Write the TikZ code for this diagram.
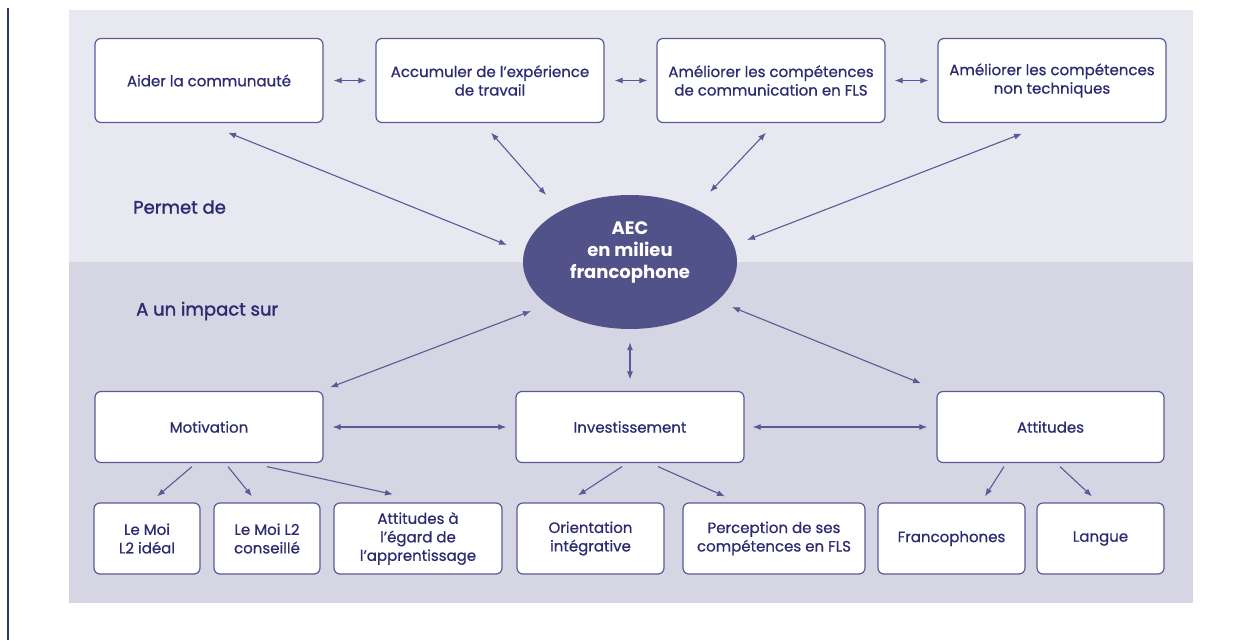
\documentclass[tikz,border=0pt]{standalone}
\usepackage{fontspec}
\setmainfont{Poppins}
\newfontfamily\medfont{Poppins}[FakeBold=0.7]
\newfontfamily\semifont{Poppins}[FakeBold=1.6]
\usetikzlibrary{arrows.meta,shapes.geometric}
\definecolor{bandtop}{HTML}{E8E8F1}
\definecolor{bandbot}{HTML}{D6D5E3}
\definecolor{boxc}{HTML}{5A5A98}
\definecolor{txtc}{HTML}{2C2B72}
\definecolor{ellc}{HTML}{52528A}
\definecolor{linec}{HTML}{2C3A72}
\tikzset{
  box/.style={draw=boxc, fill=white, line width=1.2pt, rounded corners=6pt, align=center,
    inner sep=0pt, text=txtc, font=\medfont\fontsize{15}{18.5}\selectfont},
  dbl/.style={draw=boxc, line width=1.1pt, {Latex[length=8pt,width=6pt]}-{Latex[length=8pt,width=6pt]}},
  sgl/.style={draw=boxc, line width=1.1pt, -{Latex[length=8pt,width=6pt]}},
  lbl/.style={anchor=west, text=txtc, font=\semifont\fontsize{18}{20}\selectfont, inner sep=0pt}
}
\begin{document}
\begin{tikzpicture}[x=1pt,y=-1pt]
\useasboundingbox (0,0) rectangle (1252,640);
\fill[white] (0,0) rectangle (1252,640);
\draw[linec, line width=2pt] (8,8) -- (8,640);
\fill[bandtop] (69,10) rectangle (1193,262);
\fill[bandbot] (69,262) rectangle (1193,603);
% top boxes
\node[box, minimum width=228pt, minimum height=84pt] (aider) at (209,80.5) {Aider la communauté};
\node[box, minimum width=228pt, minimum height=84pt] (accum) at (490,80.5) {Accumuler de l’expérience\\de travail};
\node[box, minimum width=228pt, minimum height=84pt] (amfls) at (771,80.5) {Améliorer les compétences\\de communication en FLS};
\node[box, minimum width=228pt, minimum height=84pt] (amnt) at (1052,80.5) {Améliorer les compétences\\non techniques};
% ellipse
\node[ellipse, fill=ellc, minimum width=214pt, minimum height=134pt, inner sep=0pt] (ell) at (630,262) {};
\node[text=white, align=center, inner sep=0pt, font=\fontsize{18}{22}\selectfont\bfseries] (elltxt)
  at ([shift={(0,-10)}]ell.center) {AEC\\en milieu\\francophone};
% labels
\node[lbl] (permet) at (133,207) {Permet de};
\node[lbl] (impact) at (136,311) {A un impact sur};
% middle boxes
\node[box, minimum width=228pt, minimum height=71pt] (motiv) at (209,427) {Motivation};
\node[box, minimum width=228pt, minimum height=71pt] (invest) at (630,427) {Investissement};
\node[box, minimum width=227pt, minimum height=71pt] (attit) at (1050.5,427) {Attitudes};
% bottom boxes
\node[box, minimum width=106pt, minimum height=71pt] (moi1) at (147,538.5) {Le Moi\\L2 idéal};
\node[box, minimum width=106pt, minimum height=71pt] (moi2) at (267,538.5) {Le Moi L2\\conseillé};
\node[box, minimum width=168pt, minimum height=71pt] (attapp) at (418,538.5) {Attitudes à\\l’égard de\\l’apprentissage};
\node[box, minimum width=147pt, minimum height=71pt] (orient) at (590.5,538.5) {Orientation\\intégrative};
\node[box, minimum width=182pt, minimum height=71pt] (percep) at (774,538.5) {Perception de ses\\compétences en FLS};
\node[box, minimum width=147pt, minimum height=71pt] (franco) at (951.5,538.5) {Francophones};
\node[box, minimum width=127pt, minimum height=71pt] (langue) at (1100.5,538.5) {Langue};
% top horizontal arrows
\draw[dbl] ([shift={(10,0)}]aider.east) -- ([shift={(-9,0)}]accum.west);
\draw[dbl] ([shift={(10,0)}]accum.east) -- ([shift={(-9,0)}]amfls.west);
\draw[dbl] ([shift={(9,0)}]amfls.east) -- ([shift={(-9,0)}]amnt.west);
% arrows to ellipse
\draw[dbl] ([shift={(19,9.5)}]aider.south) -- ([shift={(-123,-17)}]ell.center);
\draw[dbl] ([shift={(1,9.5)}]accum.south) -- ([shift={(-84,-67)}]ell.center);
\draw[dbl] ([shift={(-5,9.5)}]amfls.south) -- ([shift={(80,-70)}]ell.center);
\draw[dbl] ([shift={(-30,10.5)}]amnt.south) -- ([shift={(117,-22)}]ell.center);
\draw[dbl] ([shift={(-99,49)}]ell.center) -- ([shift={(121,-3.5)}]motiv.north);
\draw[dbl] ([shift={(0,13)}]ell.south) -- ([shift={(0,-11.5)}]invest.north);
\draw[dbl] ([shift={(102,45)}]ell.center) -- ([shift={(-129.5,-7.5)}]attit.north);
% middle horizontal arrows
\draw[dbl] ([shift={(9,0)}]motiv.east) -- ([shift={(-9,0)}]invest.west);
\draw[dbl] ([shift={(8,0)}]invest.east) -- ([shift={(-9,0)}]attit.west);
% down arrows
\draw[sgl] ([shift={(-17,3.5)}]motiv.south) -- ([shift={(10,-6)}]moi1.north);
\draw[sgl] ([shift={(19,3.5)}]motiv.south) -- ([shift={(-15,-6)}]moi2.north);
\draw[sgl] ([shift={(58,3.5)}]motiv.south) -- ([shift={(-25,-8)}]attapp.north);
\draw[sgl] ([shift={(-8,3.5)}]invest.south) -- ([shift={(-12.5,-7)}]orient.north);
\draw[sgl] ([shift={(28,3.5)}]invest.south) -- ([shift={(-49,-6)}]percep.north);
\draw[sgl] ([shift={(-46.5,3.5)}]attit.south) -- ([shift={(33.5,-6)}]franco.north);
\draw[sgl] ([shift={(9.5,3.5)}]attit.south) -- ([shift={(-8.5,-6)}]langue.north);
\end{tikzpicture}
\end{document}
